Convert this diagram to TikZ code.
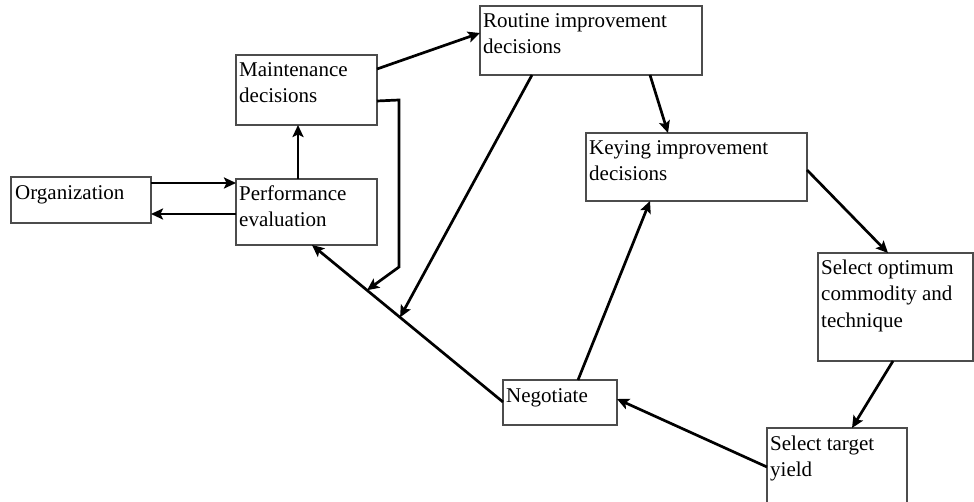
\documentclass[tikz,border=0pt]{standalone}
\usepackage{fontspec}
\setmainfont{Liberation Serif}
\usetikzlibrary{arrows.meta,calc}
\definecolor{boxgray}{gray}{0.3}
\begin{document}
\begin{tikzpicture}[x=1pt,y=-1pt,
  box/.style={draw=boxgray, line width=1.1pt, anchor=north west, inner sep=0pt, outer sep=0pt},
  lbl/.style={anchor=base west, align=left, inner sep=0pt, font=\fontsize{21}{26}\selectfont},
  conn/.style={line width=2.7pt, line join=miter, -{Stealth[length=12pt,width=11pt,inset=2.5pt]}}]
\useasboundingbox (0,0) rectangle (974,502);
% boxes
\node[box, minimum width=140pt, minimum height=46pt] (org) at (11,177) {};
\node[box, minimum width=141pt, minimum height=66pt] (perf) at (236,179) {};
\node[box, minimum width=141pt, minimum height=70pt] (maint) at (236,55) {};
\node[box, minimum width=222pt, minimum height=69pt] (routine) at (480,6) {};
\node[box, minimum width=221pt, minimum height=68pt] (keying) at (586,133) {};
\node[box, minimum width=155pt, minimum height=108pt] (selopt) at (818,253) {};
\node[box, minimum width=140pt, minimum height=80pt] (target) at (767,428) {};
\node[box, minimum width=114pt, minimum height=45pt] (neg) at (503,380) {};
% labels (base anchor = baseline of last line)
\node[lbl] (orgt) at ([shift={(4pt,-22.5pt)}]org.north west) {Organization};
\node[lbl] (perft) at ([shift={(3pt,-48pt)}]perf.north west) {Performance\\evaluation};
\node[lbl] (maintt) at ([shift={(3pt,-48pt)}]maint.north west) {Maintenance\\decisions};
\node[lbl] (routinet) at ([shift={(3pt,-48pt)}]routine.north west) {Routine improvement\\decisions};
\node[lbl] (keyingt) at ([shift={(3pt,-48pt)}]keying.north west) {Keying improvement\\decisions};
\node[lbl] (seloptt) at ([shift={(3pt,-74pt)}]selopt.north west) {Select optimum\\commodity and\\technique};
\node[lbl] (targett) at ([shift={(3pt,-48pt)}]target.north west) {Select target\\yield};
\node[lbl] (negt) at ([shift={(3pt,-22.5pt)}]neg.north west) {Negotiate};
% helper coordinates
\coordinate (dA) at ([yshift=-22pt]neg.north west);
\coordinate (dB) at ([xshift=76pt]perf.south west);
\coordinate (e1) at ([xshift=22pt,yshift=-45pt]maint.north east);
\coordinate (e2) at ([xshift=22pt,yshift=-212pt]maint.north east);
% connectors
\draw[conn] ([yshift=-6pt]org.north east) -- ([yshift=-4pt]perf.north west);
\draw[conn] ([yshift=-35pt]perf.north west) -- ([yshift=-37pt]org.north east);
\draw[conn] ([xshift=62pt]perf.north west) -- ([xshift=62pt]maint.south west);
\draw[conn] ([yshift=-14pt]maint.north east) -- ([yshift=-27pt]routine.north west);
\draw[conn] ([yshift=-46pt]maint.north east) -- (e1) -- (e2) -- ($(dB)!0.288!(dA)$);
\draw[conn] (dA) -- (dB);
\draw[conn] ([xshift=52pt]routine.south west) -- ($(dB)!0.461!(dA)$);
\draw[conn] ([xshift=170pt]routine.south west) -- ([xshift=82pt]keying.north west);
\draw[conn] ([yshift=-37pt]keying.north east) -- ([xshift=70pt]selopt.north west);
\draw[conn] ([xshift=75pt]selopt.south west) -- ([xshift=85pt]target.north west);
\draw[conn] ([yshift=-39pt]target.north west) -- ([yshift=-19pt]neg.north east);
\draw[conn] ([xshift=75pt]neg.north west) -- ([xshift=64pt]keying.south west);
\end{tikzpicture}
\end{document}
